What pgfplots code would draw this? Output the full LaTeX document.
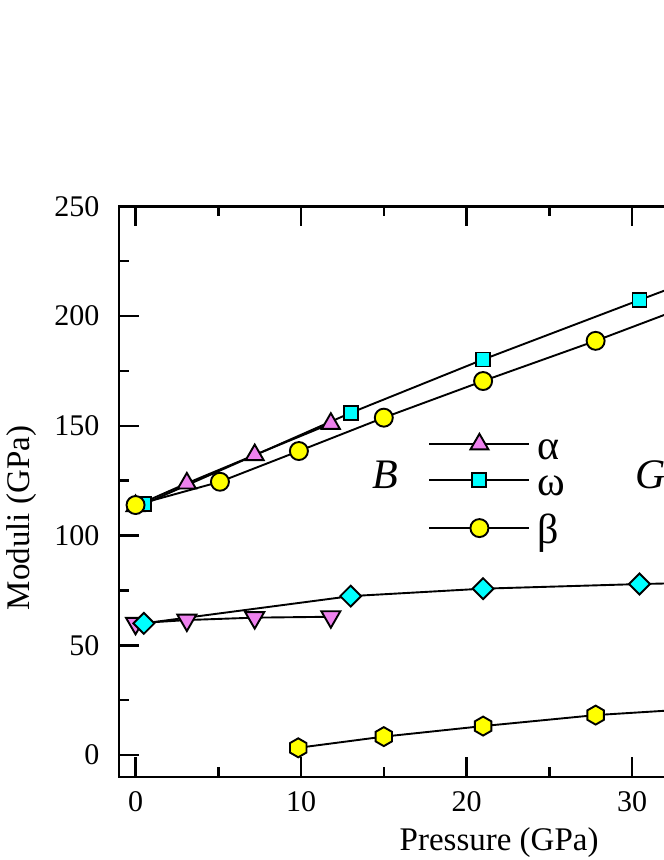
\documentclass[border=0pt]{standalone}
\usepackage{fontspec}
\setmainfont{Liberation Serif}
\usepackage{pgfplots}
\pgfplotsset{compat=1.18}
\definecolor{viol}{RGB}{238,130,238}
\definecolor{cyn}{RGB}{0,255,255}
\definecolor{yel}{RGB}{255,255,0}
\pgfdeclareplotmark{hexagon*}{%
  \pgfpathmoveto{\pgfqpointpolar{90}{\pgfplotmarksize}}%
  \pgfpathlineto{\pgfqpointpolar{150}{\pgfplotmarksize}}%
  \pgfpathlineto{\pgfqpointpolar{210}{\pgfplotmarksize}}%
  \pgfpathlineto{\pgfqpointpolar{270}{\pgfplotmarksize}}%
  \pgfpathlineto{\pgfqpointpolar{330}{\pgfplotmarksize}}%
  \pgfpathlineto{\pgfqpointpolar{30}{\pgfplotmarksize}}%
  \pgfpathclose\pgfusepathqfillstroke}
\pgfplotsset{
  common/.style={at={(0pt,0pt)}, anchor=south west,
    x=16.55pt, y=2.195pt, xmin=-1, xmax=45, ymin=-10, ymax=250},
  ser/.style={black, line width=1.9pt, mark options={solid, draw=black, line width=2pt}},
  leg/.style={legend style={draw=none, fill=none, inner sep=0pt, outer sep=0pt,
      row sep=0pt, column sep=0pt, font=\fontsize{42}{42}\selectfont,
      nodes={inner xsep=7pt, inner ysep=0pt, text height=33pt, text depth=3pt}},
    legend cell align=left,
    legend image code/.code={\draw[mark repeat=2, mark phase=2, ##1]
      plot coordinates {(0pt,0pt) (50pt,0pt) (100pt,0pt)};}},
}
\begin{document}
\begin{tikzpicture}
\path[use as bounding box] (-119pt,-83pt) rectangle (545pt,777pt);
\clip (-119pt,-83pt) rectangle (545pt,777pt);
\begin{axis}[common, leg,
  axis line style={line width=2.5pt},
  major tick style={line width=2.5pt, black},
  minor tick style={line width=2.5pt, black},
  tick align=inside,
  major tick length=20pt, minor tick length=10pt,
  xtick={0,10,20,30,40}, ytick={0,50,100,150,200,250},
  minor x tick num=1, minor y tick num=1,
  xtick pos=both, ytick pos=both,
  ticklabel style={font=\fontsize{30}{30}\selectfont},
  xticklabel style={yshift=-11pt},
  yticklabel style={xshift=-16pt},
  /pgf/number format/assume math mode=true,
  xlabel={Pressure (GPa)}, ylabel={Moduli (GPa)},
  label style={font=\fontsize{33}{33}\selectfont},
  xlabel style={at={(axis description cs:0.4993,-0.128)}, anchor=base},
  ylabel style={at={(axis description cs:-0.1275,0.454)}, anchor=center},
  legend style={at={(axis cs:17.70,149.8)}, anchor=north west},
  clip=false,
]
% B
\addplot[ser, mark=triangle*, mark size=10.4pt, mark options={fill=viol}] coordinates {
(0,113.5) (3.1,123.8) (7.2,136.7) (11.8,151.0)};
\addlegendentry{α}
\addplot[ser, mark=square*, mark size=7pt, mark options={fill=cyn}] coordinates {
(0.5,114.3) (13.0,155.9) (21.0,180.2) (30.45,207.3) (40,234.5)};
\addlegendentry{ω}
\addplot[ser, mark=*, mark size=9pt, mark options={fill=yel}] coordinates {
(0,113.9) (5.1,124.5) (9.87,138.5) (15.0,153.7) (21.0,170.4) (27.8,188.7) (35,209.2)};
% G
\addplot[ser, mark=triangle*, mark size=11pt, mark options={fill=viol, rotate=180}, forget plot] coordinates {
(0,60.0) (3.1,61.5) (7.2,62.6) (11.8,63.0)};
\addplot[ser, mark=square*, mark size=7.4pt, mark options={fill=cyn, rotate=45}, forget plot] coordinates {
(0.5,60.0) (13.0,72.4) (21.0,75.8) (30.45,77.9) (40,79.5)};
\addplot[ser, mark=hexagon*, mark size=9.5pt, mark options={fill=yel}, forget plot] coordinates {
(9.83,3.3) (15.0,8.4) (21.0,13.2) (27.8,18.2) (35,21.6)};
\node[anchor=base west, font=\fontsize{42}{42}\selectfont\itshape, inner sep=0pt] at (axis cs:14.32,121.6) {B};
\node[anchor=base west, font=\fontsize{42}{42}\selectfont\itshape, inner sep=0pt] at (axis cs:30.21,121.6) {G};
\end{axis}
\begin{axis}[common, leg, hide axis,
  legend style={at={(axis cs:17.70,111.6)}, anchor=north west}]
\addlegendimage{ser, mark=*, mark size=9pt, mark options={fill=yel}}
\addlegendentry{β}
\end{axis}
\end{tikzpicture}
\end{document}
